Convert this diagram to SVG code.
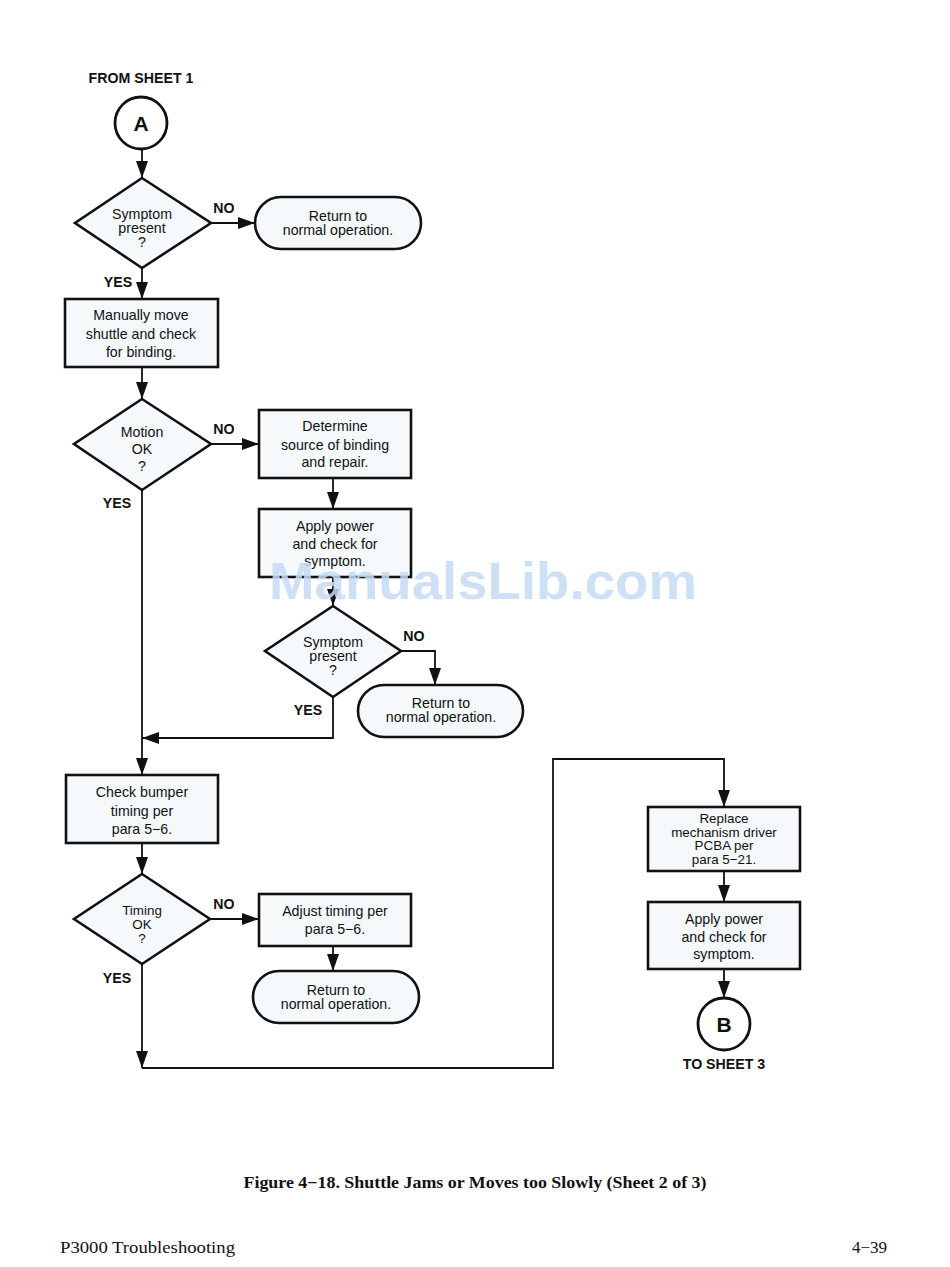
<svg xmlns="http://www.w3.org/2000/svg" width="950" height="1267" viewBox="0 0 950 1267">
<style>
.bx{fill:#f5f9fc;stroke:#111;stroke-width:2.6}
.cn{fill:none;stroke:#111;stroke-width:1.8}
.t{font-family:"Liberation Sans",Arial,sans-serif;font-size:14.2px;fill:#111;text-anchor:middle}
.ts{font-family:"Liberation Sans",Arial,sans-serif;font-size:13.4px;fill:#111;text-anchor:middle}
.lb{font-family:"Liberation Sans",Arial,sans-serif;font-size:14.2px;font-weight:bold;fill:#111;text-anchor:middle}
.cl{font-family:"Liberation Sans",Arial,sans-serif;font-size:21px;font-weight:bold;fill:#111;text-anchor:middle}
</style>
<defs>
<marker id="ah" markerWidth="17" markerHeight="12" refX="17" refY="6" orient="auto" markerUnits="userSpaceOnUse">
<path d="M0,0 L17,6 L0,12 Z" fill="#111"/>
</marker>
</defs>
<rect width="950" height="1267" fill="#fff"/>

<g id="connectors">
<line class="cn" x1="142" y1="149" x2="142" y2="178" marker-end="url(#ah)"/>
<line class="cn" x1="211" y1="223" x2="255" y2="223" marker-end="url(#ah)"/>
<line class="cn" x1="142" y1="268" x2="142" y2="299" marker-end="url(#ah)"/>
<line class="cn" x1="142" y1="367" x2="142" y2="399" marker-end="url(#ah)"/>
<line class="cn" x1="211" y1="444" x2="259" y2="444" marker-end="url(#ah)"/>
<line class="cn" x1="333" y1="478" x2="333" y2="509" marker-end="url(#ah)"/>
<line class="cn" x1="333" y1="577" x2="333" y2="606" marker-end="url(#ah)"/>
<polyline class="cn" points="401,651 435,651 435,685" marker-end="url(#ah)"/>
<polyline class="cn" points="333,697 333,738 142,738" marker-end="url(#ah)"/>
<line class="cn" x1="142" y1="490" x2="142" y2="775" marker-end="url(#ah)"/>
<line class="cn" x1="142" y1="843" x2="142" y2="874" marker-end="url(#ah)"/>
<line class="cn" x1="210" y1="919" x2="259" y2="919" marker-end="url(#ah)"/>
<line class="cn" x1="333" y1="946" x2="333" y2="971" marker-end="url(#ah)"/>
<line class="cn" x1="142" y1="964" x2="142" y2="1068" marker-end="url(#ah)"/>
<polyline class="cn" points="142,1068 553,1068 553,759 724,759 724,807" stroke-width="1.4" marker-end="url(#ah)"/>
<line class="cn" x1="724" y1="871" x2="724" y2="902" marker-end="url(#ah)"/>
<line class="cn" x1="724" y1="969" x2="724" y2="998" marker-end="url(#ah)"/>
<text class="lb" x="224" y="213">NO</text>
<text class="lb" x="118" y="287">YES</text>
<text class="lb" x="224" y="434">NO</text>
<text class="lb" x="117" y="508">YES</text>
<text class="lb" x="414" y="641">NO</text>
<text class="lb" x="308" y="715">YES</text>
<text class="lb" x="224" y="909">NO</text>
<text class="lb" x="117" y="983">YES</text>
</g>

<g id="connA">
<text class="lb" x="141" y="83">FROM SHEET 1</text>
<circle cx="141" cy="123" r="26" fill="#fff" stroke="#111" stroke-width="2.8"/>
<text class="cl" x="141" y="131">A</text>
</g>

<g id="dec1">
<polygon class="bx" points="142,178 211,223 142,268 75,223"/>
<text class="t" x="142" y="219">Symptom</text>
<text class="t" x="142" y="233">present</text>
<text class="t" x="142" y="247">?</text>
</g>

<g id="term1">
<rect class="bx" x="255" y="197" width="166" height="52" rx="26"/>
<text class="t" x="338" y="221">Return to</text>
<text class="t" x="338" y="235">normal operation.</text>
</g>

<g id="box1">
<rect class="bx" x="65" y="299" width="153" height="68"/>
<text class="t" x="141" y="320">Manually move</text>
<text class="t" x="141" y="339">shuttle and check</text>
<text class="t" x="141" y="357">for binding.</text>
</g>

<g id="dec2">
<polygon class="bx" points="142,399 211,444 142,490 74,444"/>
<text class="t" x="142" y="437">Motion</text>
<text class="t" x="142" y="454">OK</text>
<text class="t" x="142" y="471">?</text>
</g>

<g id="box2">
<rect class="bx" x="259" y="410" width="152" height="68"/>
<text class="t" x="335" y="431">Determine</text>
<text class="t" x="335" y="450">source of binding</text>
<text class="t" x="335" y="467">and repair.</text>
</g>

<g id="box3">
<rect class="bx" x="259" y="509" width="152" height="68"/>
<text class="t" x="335" y="531">Apply power</text>
<text class="t" x="335" y="549">and check for</text>
<text class="t" x="335" y="566">symptom.</text>
</g>

<g id="dec3">
<polygon class="bx" points="333,606 401,651 333,697 265,651"/>
<text class="t" x="333" y="647">Symptom</text>
<text class="t" x="333" y="661">present</text>
<text class="t" x="333" y="675">?</text>
</g>

<g id="term2">
<rect class="bx" x="358" y="685" width="165" height="52" rx="26"/>
<text class="t" x="441" y="708">Return to</text>
<text class="t" x="441" y="722">normal operation.</text>
</g>

<g id="box4">
<rect class="bx" x="66" y="775" width="152" height="68"/>
<text class="t" x="142" y="797">Check bumper</text>
<text class="t" x="142" y="816">timing per</text>
<text class="t" x="142" y="834">para 5−6.</text>
</g>

<g id="dec4">
<polygon class="bx" points="142,874 210,919 142,964 74,919"/>
<text class="ts" x="142" y="915">Timing</text>
<text class="ts" x="142" y="929">OK</text>
<text class="ts" x="142" y="943">?</text>
</g>

<g id="box5">
<rect class="bx" x="259" y="894" width="152" height="52"/>
<text class="t" x="335" y="916">Adjust timing per</text>
<text class="t" x="335" y="934">para 5−6.</text>
</g>

<g id="term3">
<rect class="bx" x="253" y="971" width="166" height="52" rx="26"/>
<text class="t" x="336" y="995">Return to</text>
<text class="t" x="336" y="1009">normal operation.</text>
</g>

<g id="box6">
<rect class="bx" x="648" y="807" width="152" height="64"/>
<text class="ts" x="724" y="823">Replace</text>
<text class="ts" x="724" y="836.5">mechanism driver</text>
<text class="ts" x="724" y="850">PCBA per</text>
<text class="ts" x="724" y="863.5">para 5−21.</text>
</g>

<g id="box7">
<rect class="bx" x="648" y="902" width="152" height="67"/>
<text class="t" x="724" y="924">Apply power</text>
<text class="t" x="724" y="942">and check for</text>
<text class="t" x="724" y="959">symptom.</text>
</g>

<g id="connB">
<circle cx="724" cy="1024" r="26" fill="#fff" stroke="#111" stroke-width="2.8"/>
<text class="cl" x="724" y="1032">B</text>
<text class="lb" x="724" y="1069">TO SHEET 3</text>
</g>

<text x="483" y="599" font-family="Liberation Sans,Arial,sans-serif" font-size="52" font-weight="bold" fill="#c5daf4" fill-opacity="0.85" text-anchor="middle" textLength="428" lengthAdjust="spacingAndGlyphs">ManualsLib.com</text>

<text x="475" y="1188" font-family="Liberation Serif,'Times New Roman',serif" font-size="16" font-weight="bold" fill="#111" text-anchor="middle" textLength="463" lengthAdjust="spacingAndGlyphs">Figure 4−18. Shuttle Jams or Moves too Slowly (Sheet 2 of 3)</text>
<text x="60" y="1253" font-family="Liberation Serif,'Times New Roman',serif" font-size="17" fill="#111" textLength="175" lengthAdjust="spacingAndGlyphs">P3000 Troubleshooting</text>
<text x="887" y="1253" font-family="Liberation Serif,'Times New Roman',serif" font-size="17" fill="#111" text-anchor="end">4−39</text>
</svg>
